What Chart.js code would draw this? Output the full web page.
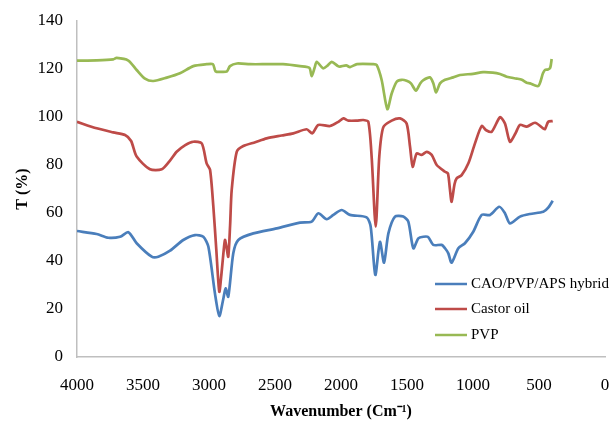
<!DOCTYPE html>
<html>
<head>
<meta charset="utf-8">
<script src="https://cdn.jsdelivr.net/npm/chart.js@4"></script>
<style>
  html, body { margin: 0; padding: 0; background: #ffffff; }
  #wrap { width: 611px; height: 421px; }
</style>
</head>
<body>
<div id="wrap"><canvas id="ftirChart" width="611" height="421"></canvas></div>
<script>
// FTIR spectra (wavenumber in cm-1, transmittance in %)
const hybridWn = [4000, 3851, 3763, 3674, 3611, 3548, 3434, 3384, 3295, 3195, 3106, 3043, 3005, 2955, 2922,
  2891, 2874, 2854, 2816, 2778, 2664, 2487, 2311, 2222, 2172, 2108, 2058, 1995, 1932, 1806,
  1775, 1740, 1705, 1674, 1641, 1591, 1528, 1490, 1452, 1414, 1376, 1340, 1301, 1237, 1212,
  1187, 1162, 1111, 1061, 998, 934, 871, 801, 758, 720, 644, 568, 467, 430, 396];
const hybridT = [52.5, 51.25, 49.7, 50.1, 52, 47.4, 41.8, 41.8, 44.3, 48.75, 50.8, 50.1, 46, 26.5, 17.1,
  24.4, 28.6, 25.1, 43.2, 48.75, 51.5, 53.6, 56, 56.4, 59.9, 57.4, 59.2, 61.25, 59.2, 58.2,
  54.3, 34.2, 48, 39.3, 51.5, 58.5, 58.5, 56.4, 45.3, 49.4, 50.1, 50, 46.7, 46.7, 45.3,
  43.2, 39.3, 45.3, 47.4, 52.2, 59.2, 59.2, 62.6, 59.9, 55.7, 58.5, 59.6, 60.5, 62.2, 65.1];

const castorWn = [4000, 3851, 3725, 3636, 3590, 3548, 3447, 3358, 3300, 3245, 3180, 3119, 3055, 3018, 2992,
  2967, 2945, 2922, 2905, 2891, 2879, 2868, 2854, 2840, 2828, 2790, 2740, 2650, 2563, 2450,
  2361, 2260, 2217, 2172, 2083, 2020, 1982, 1944, 1880, 1831, 1793, 1768, 1737, 1710, 1680,
  1616, 1553, 1503, 1477, 1457, 1427, 1389, 1351, 1313, 1275, 1212, 1190, 1175, 1162, 1140,
  1124, 1086, 1035, 985, 934, 900, 858, 795, 758, 720, 680, 644, 593, 530, 470, 455, 430, 396];
const castorT = [98, 95.3, 93.6, 92.5, 90, 83.5, 78.2, 78.2, 81.5, 85.5, 88.3, 89.7, 89, 80.7, 78,
  62.6, 45, 27.2, 35, 43.2, 48.75, 46, 41.8, 55, 69.6, 85.5, 87.9, 89.5, 91.1, 92.3,
  93.2, 94.9, 93.2, 96.7, 96.25, 98, 99.4, 98.5, 98.5, 98.75, 98, 83.5, 54.3, 83.5, 95.7,
  98.5, 99.4, 97.3, 87.6, 79.3, 84.8, 84.2, 85.5, 84.2, 80, 77.2, 76.5, 70, 64.7, 72,
  74.4, 75.8, 80.7, 89, 96.25, 94.5, 93.9, 99.9, 97.3, 89.7, 93, 96.7, 96, 97.6, 95.3, 94.9, 98, 98.3];

const pvpWn = [4000, 3850, 3725, 3700, 3611, 3548, 3485, 3422, 3320, 3220, 3119, 3017, 2970, 2950, 2900,
  2864, 2841, 2788, 2689, 2560, 2439, 2311, 2240, 2222, 2200, 2184, 2136, 2100, 2071, 2023,
  2008, 1960, 1932, 1879, 1758, 1730, 1692, 1649, 1616, 1578, 1540, 1503, 1470, 1432, 1400,
  1376, 1326, 1300, 1280, 1250, 1212, 1150, 1098, 1000, 924, 850, 795, 745, 669, 630,
  593, 568, 505, 470, 455, 432, 415, 404];
const pvpT = [123.5, 123.6, 124, 124.6, 123.5, 119.6, 116, 115, 116.4, 118.2, 121.2, 122, 122, 119, 118.8,
  119, 121.2, 122.3, 122, 122, 122, 121.2, 120.5, 117, 120.5, 123, 120.3, 121.5, 123, 121.2,
  121, 121.5, 120.8, 122, 122, 121.7, 115.4, 103.3, 109.8, 114.7, 115.5, 115.1, 114, 111, 114,
  115.4, 116.5, 114, 110.2, 114, 115.5, 116.5, 117.5, 118, 118.7, 118.5, 117.9, 116.8, 116, 115.5,
  114.3, 114, 112.9, 118.2, 119.6, 119.8, 120.5, 124.2];

const seriesLabels = ['CAO/PVP/APS hybrid', 'Castor oil', 'PVP'];
const seriesColors = ['#4a7ebb', '#be4b48', '#98b954'];

function toPoints(xs, ys) {
  return xs.map((x, i) => ({ x, y: ys[i] }));
}

// Legend sits inside the plot, lower right, like the spreadsheet original
const insideLegend = {
  id: 'insideLegend',
  afterDraw(chart) {
    const ctx = chart.ctx;
    const area = chart.chartArea;
    const x0 = area.right - 170;
    const rows = [area.bottom - 73, area.bottom - 48, area.bottom - 22];
    ctx.save();
    ctx.font = '15px "Liberation Serif"';
    ctx.textBaseline = 'middle';
    chart.data.datasets.forEach((ds, i) => {
      ctx.strokeStyle = ds.borderColor;
      ctx.lineWidth = 2.5;
      ctx.beginPath();
      ctx.moveTo(x0, rows[i]);
      ctx.lineTo(x0 + 32, rows[i]);
      ctx.stroke();
      ctx.fillStyle = '#000000';
      ctx.fillText(ds.label, x0 + 36, rows[i]);
    });
    ctx.restore();
  }
};

const datasets = [
  toPoints(hybridWn, hybridT),
  toPoints(castorWn, castorT),
  toPoints(pvpWn, pvpT)
].map((pts, i) => ({
  label: seriesLabels[i],
  data: pts,
  borderColor: seriesColors[i],
  backgroundColor: seriesColors[i],
  borderWidth: 2.7,
  pointRadius: 0,
  tension: 0.25,
  fill: false
}));

new Chart(document.getElementById('ftirChart'), {
  type: 'line',
  data: { datasets },
  plugins: [insideLegend],
  options: {
    responsive: false,
    animation: false,
    layout: { padding: { top: 21, right: 0, left: 0, bottom: 0 } },
    plugins: {
      legend: { display: false },
      tooltip: { enabled: false }
    },
    scales: {
      x: {
        type: 'linear',
        reverse: true,
        min: 0,
        max: 4000,
        grid: { display: false },
        border: { display: true, color: '#bfbfbf', width: 1.5 },
        ticks: {
          stepSize: 500,
          color: '#000000',
          padding: 10,
          maxRotation: 0,
          font: { family: 'Liberation Serif', size: 17 },
          callback: (value) => String(value)
        },
        title: {
          display: true,
          text: 'Wavenumber (Cm\u207B\u00B9)',
          color: '#000000',
          padding: { top: 4, bottom: 0 },
          font: { family: 'Liberation Serif', size: 16, weight: 'bold' }
        },
        afterFit(scale) {
          scale.height = 64;
          scale.paddingRight = 6;
        }
      },
      y: {
        min: 0,
        max: 140,
        grid: { display: false },
        border: { display: true, color: '#bfbfbf', width: 1.5 },
        ticks: {
          stepSize: 20,
          color: '#000000',
          padding: 6,
          font: { family: 'Liberation Serif', size: 17 },
          callback: (value) => String(value)
        },
        title: {
          display: true,
          text: 'T (%)',
          color: '#000000',
          padding: { top: 13, bottom: 0 },
          font: { family: 'Liberation Serif', size: 16, weight: 'bold' }
        },
        afterFit(scale) { scale.width = 77; }
      }
    }
  }
});
</script>
</body>
</html>
